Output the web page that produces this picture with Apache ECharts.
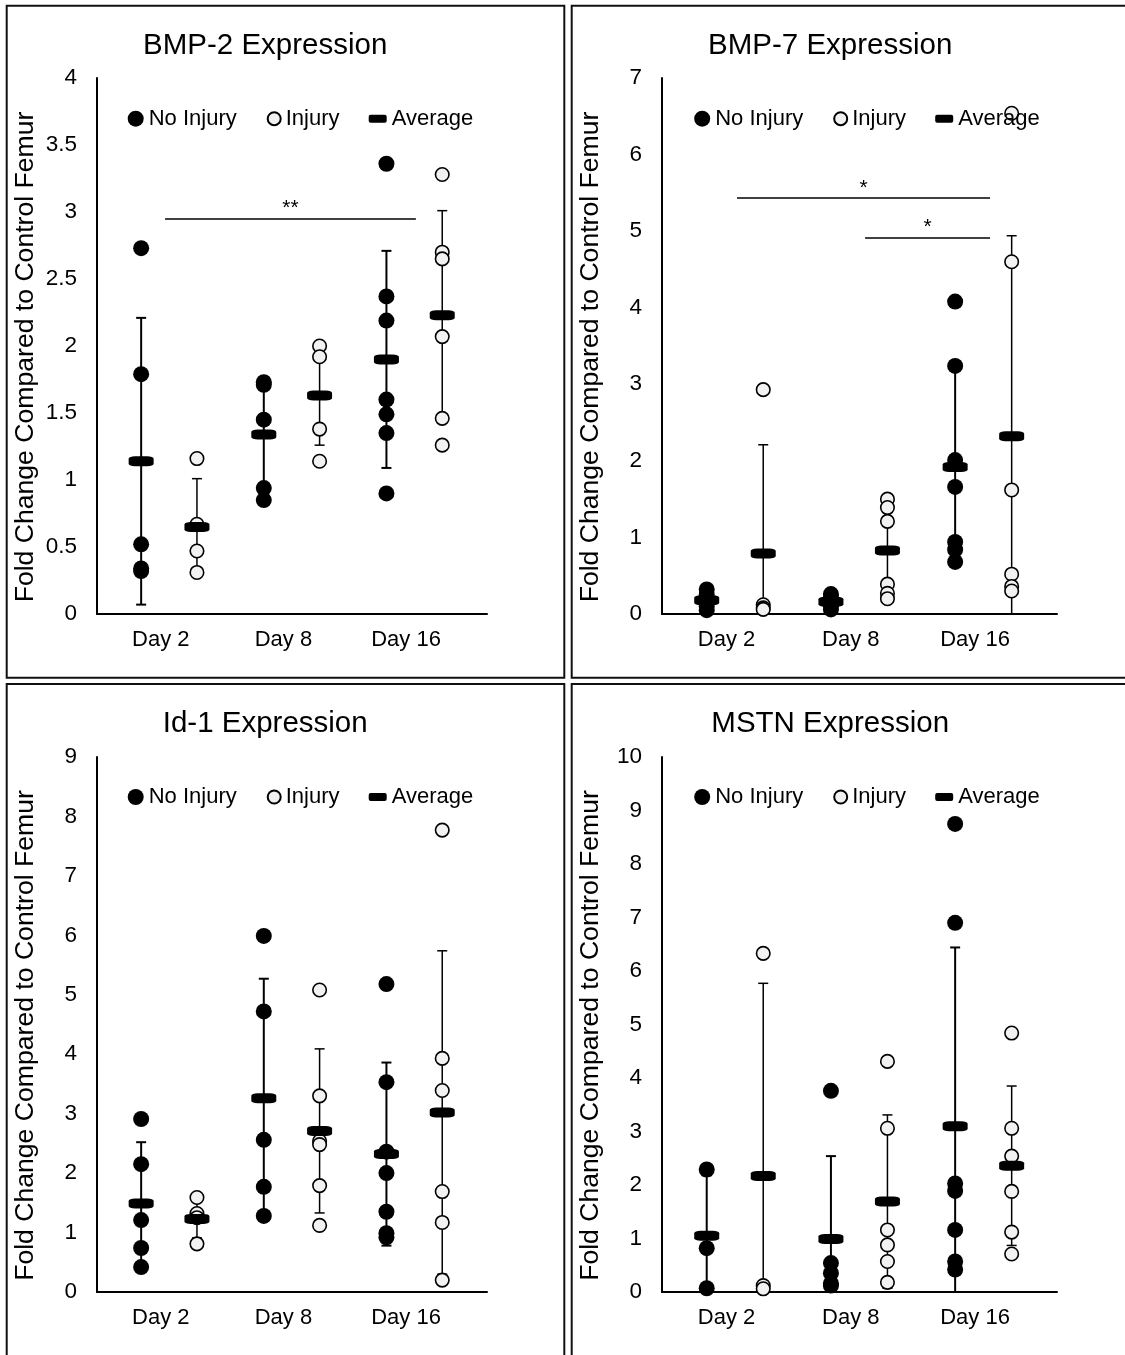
<!DOCTYPE html>
<html><head><meta charset="utf-8">
<script src="https://cdn.jsdelivr.net/npm/echarts@6/dist/echarts.min.js"></script>
<style>html,body{margin:0;padding:0;background:#fff}#c{width:1125px;height:1355px}</style>
</head><body><div id="c"></div><script>
// ---------- data ----------
const days = ['Day 2', 'Day 8', 'Day 16'];
const legendNames = ['No Injury', 'Injury', 'Average'];
const axisName = 'Fold Change Compared to Control Femur';
const panelTitles = ['BMP-2 Expression', 'BMP-7 Expression', 'Id-1 Expression', 'MSTN Expression'];
const yMaxes = [4, 7, 9, 10];
const yIntervals = [0.5, 1, 1, 1];

// BMP-2
const bmp2NoInjury = [[2.73, 1.79, 0.52, 0.34, 0.32], [1.73, 1.71, 1.45, 0.94, 0.85], [3.36, 2.37, 2.19, 1.60, 1.49, 1.35, 0.90]];
const bmp2Injury = [[1.16, 0.67, 0.47, 0.31], [2.00, 1.92, 1.38, 1.14], [3.28, 2.70, 2.65, 2.07, 1.46, 1.26]];
const bmp2AvgNoInjury = [1.14, 1.34, 1.90];
const bmp2SdNoInjury = [1.07, 0.42, 0.81];
const bmp2AvgInjury = [0.65, 1.63, 2.23];
const bmp2SdInjury = [0.36, 0.37, 0.78];
const bmp2Sig = [[0.555, 2.60, 2.95, '**']];

// BMP-7
const bmp7NoInjury = [[0.32, 0.25, 0.18, 0.10, 0.05], [0.26, 0.22, 0.15, 0.10, 0.06], [4.08, 3.24, 2.01, 1.66, 0.94, 0.84, 0.68]];
const bmp7Injury = [[2.93, 0.12, 0.08, 0.06], [1.50, 1.39, 1.21, 0.39, 0.27, 0.20], [6.54, 4.60, 1.62, 0.52, 0.36, 0.30]];
const bmp7AvgNoInjury = [0.18, 0.16, 1.92];
const bmp7SdNoInjury = [0.12, 0.08, 1.30];
const bmp7AvgInjury = [0.79, 0.83, 2.32];
const bmp7SdInjury = [1.42, 0.60, 2.62];
const bmp7Sig = [[0.604, 2.641, 5.43, '*'], [1.635, 2.641, 4.91, '*']];

// Id-1
const id1NoInjury = [[2.91, 2.15, 1.21, 0.74, 0.42], [5.99, 4.72, 2.56, 1.77, 1.28], [5.18, 3.53, 2.36, 2.00, 1.35, 0.99, 0.92]];
const id1Injury = [[1.59, 1.32, 1.25, 0.81], [5.08, 3.30, 2.54, 2.48, 1.79, 1.12], [7.77, 3.93, 3.39, 1.69, 1.17, 0.20]];
const id1AvgNoInjury = [1.49, 3.26, 2.32];
const id1SdNoInjury = [1.03, 2.01, 1.54];
const id1AvgInjury = [1.23, 2.71, 3.02];
const id1SdInjury = [0.32, 1.38, 2.72];
const id1Sig = [];

// MSTN
const mstnNoInjury = [[2.29, 0.82, 0.07], [3.76, 0.54, 0.35, 0.16, 0.12], [8.75, 6.90, 2.03, 1.89, 1.16, 0.57, 0.42]];
const mstnInjury = [[6.33, 0.12, 0.06], [4.31, 3.06, 1.16, 0.88, 0.57, 0.18], [4.84, 3.06, 2.54, 1.88, 1.12, 0.71]];
const mstnAvgNoInjury = [1.05, 0.99, 3.10];
const mstnSdNoInjury = [1.13, 1.55, 3.34];
const mstnAvgInjury = [2.17, 1.69, 2.36];
const mstnSdInjury = [3.60, 1.62, 1.49];
const mstnSig = [];

// ---------- layout ----------
const fam = '"Liberation Sans", Arial, sans-serif';
const X_MAX = 3.18, OFF_NI = 0.36, OFF_I = 0.815, OFF_LABEL = 0.52;
const panels = [
  {bx: 6.7, by: 5.7, gl: 97, gt: 78, gw: 390, gh: 536,
   ni: bmp2NoInjury, inj: bmp2Injury, aNI: bmp2AvgNoInjury, sNI: bmp2SdNoInjury, aI: bmp2AvgInjury, sI: bmp2SdInjury, sig: bmp2Sig},
  {bx: 571.7, by: 5.7, gl: 662, gt: 78, gw: 395, gh: 536,
   ni: bmp7NoInjury, inj: bmp7Injury, aNI: bmp7AvgNoInjury, sNI: bmp7SdNoInjury, aI: bmp7AvgInjury, sI: bmp7SdInjury, sig: bmp7Sig},
  {bx: 6.7, by: 684, gl: 97, gt: 757, gw: 390, gh: 535,
   ni: id1NoInjury, inj: id1Injury, aNI: id1AvgNoInjury, sNI: id1SdNoInjury, aI: id1AvgInjury, sI: id1SdInjury, sig: id1Sig},
  {bx: 571.7, by: 684, gl: 662, gt: 757, gw: 395, gh: 535,
   ni: mstnNoInjury, inj: mstnInjury, aNI: mstnAvgNoInjury, sNI: mstnSdNoInjury, aI: mstnAvgInjury, sI: mstnSdInjury, sig: mstnSig}
];

function flatten(groups, off) {
  const out = [];
  groups.forEach((g, d) => g.forEach(v => out.push([d + off, v])));
  return out;
}
function errData(avg, sd, off) {
  return avg.map((a, d) => [d + off, a - sd[d], a + sd[d]]);
}
function errRender(lw) {
  return function (params, api) {
    const x = api.value(0), lo = api.value(1), hi = api.value(2);
    const pT = api.coord([x, hi]);
    const pB = api.coord([x, Math.max(lo, 0)]);
    const cw = 5;
    const st = {stroke: '#000', lineWidth: lw};
    const ch = [
      {type: 'line', shape: {x1: pT[0], y1: pT[1], x2: pB[0], y2: pB[1]}, style: st},
      {type: 'line', shape: {x1: pT[0] - cw, y1: pT[1], x2: pT[0] + cw, y2: pT[1]}, style: st}
    ];
    if (lo >= 0) ch.push({type: 'line', shape: {x1: pB[0] - cw, y1: pB[1], x2: pB[0] + cw, y2: pB[1]}, style: st});
    return {type: 'group', children: ch};
  };
}

const option = {
  backgroundColor: '#fff',
  animation: false,
  title: [], legend: [], grid: [], xAxis: [], yAxis: [], series: [], graphic: []
};

panels.forEach((p, i) => {
  option.graphic.push({type: 'rect', silent: true, z: 100,
    shape: {x: p.bx, y: p.by, width: 557.6, height: 672},
    style: {fill: 'none', stroke: '#111', lineWidth: 2}});
  option.title.push({text: panelTitles[i], left: p.bx + 258.5, top: p.by + 25, textAlign: 'center', padding: 0,
    textStyle: {fontFamily: fam, fontSize: 29.5, fontWeight: 'normal', color: '#000'}});
  const ly = p.by + 102;
  const lx = p.bx + (i % 2 === 0 ? 0 : 1.5);
  const lts = {fontFamily: fam, fontSize: 22, color: '#000'};
  option.legend.push(
    {data: [legendNames[0]], left: lx + 121, top: ly, padding: 0, itemWidth: 16, itemHeight: 16, icon: 'circle', textStyle: lts, selectedMode: false},
    {data: [legendNames[1]], left: lx + 260, top: ly, padding: 0, itemWidth: 13, itemHeight: 13, icon: 'circle', textStyle: lts, selectedMode: false},
    {data: [legendNames[2]], left: lx + 362, top: ly, padding: 0, itemWidth: 18, itemHeight: 8, icon: 'roundRect', textStyle: lts, selectedMode: false}
  );
  option.grid.push({left: p.gl, top: p.gt, width: p.gw, height: p.gh, containLabel: false});
  option.xAxis.push({gridIndex: i, type: 'value', min: 0, max: X_MAX,
    axisLine: {show: true, onZero: false, lineStyle: {color: '#000', width: 2}},
    axisTick: {show: false}, splitLine: {show: false},
    axisLabel: {customValues: days.map((d, k) => k + OFF_LABEL), margin: 15, fontFamily: fam, fontSize: 22, color: '#000',
      formatter: v => days[Math.round(v - OFF_LABEL)]}
  });
  option.yAxis.push({gridIndex: i, type: 'value', min: 0, max: yMaxes[i], interval: yIntervals[i],
    axisLine: {show: true, lineStyle: {color: '#000', width: 2}},
    axisTick: {show: false}, splitLine: {show: false},
    axisLabel: {margin: 20, fontFamily: fam, fontSize: 22.5, color: '#000'},
    name: axisName, nameLocation: 'middle', nameGap: 58,
    nameTextStyle: {fontFamily: fam, fontSize: 26.6, color: '#000', padding: [0, 22, 0, 0]}
  });
  option.series.push(
    {type: 'custom', name: 'errNI' + i, xAxisIndex: i, yAxisIndex: i, z: 1, renderItem: errRender(2),
      data: errData(p.aNI, p.sNI, OFF_NI), encode: {x: 0, y: [1, 2]}, silent: true},
    {type: 'custom', name: 'errI' + i, xAxisIndex: i, yAxisIndex: i, z: 1, renderItem: errRender(1.5),
      data: errData(p.aI, p.sI, OFF_I), encode: {x: 0, y: [1, 2]}, silent: true},
    {type: 'scatter', name: legendNames[0], xAxisIndex: i, yAxisIndex: i, z: 2, symbol: 'circle', symbolSize: 16,
      itemStyle: {color: '#000', opacity: 1}, data: flatten(p.ni, OFF_NI)},
    {type: 'scatter', name: legendNames[1], xAxisIndex: i, yAxisIndex: i, z: 3, symbol: 'circle', symbolSize: 13.5,
      itemStyle: {color: '#f2f2f2', borderColor: '#000', borderWidth: 1.6, opacity: 1}, data: flatten(p.inj, OFF_I)},
    {type: 'scatter', name: legendNames[2], xAxisIndex: i, yAxisIndex: i, z: 4, symbol: 'roundRect', symbolSize: [25, 10],
      itemStyle: {color: '#000', opacity: 1},
      data: p.aNI.map((a, d) => [d + OFF_NI, a]).concat(p.aI.map((a, d) => [d + OFF_I, a])),
      markLine: p.sig.length ? {
        silent: true, symbol: ['none', 'none'], animation: false,
        lineStyle: {color: '#000', width: 1.6, type: 'solid'},
        label: {show: true, position: 'insideMiddleTop', distance: 0, formatter: '{b}', fontFamily: fam, fontSize: 21, color: '#000'},
        data: p.sig.map(s => [{coord: [s[0], s[2]], name: s[3]}, {coord: [s[1], s[2]]}])
      } : undefined}
  );
});

const chart = echarts.init(document.getElementById('c'), null, {renderer: 'canvas'});
chart.setOption(option);
</script></body></html>
